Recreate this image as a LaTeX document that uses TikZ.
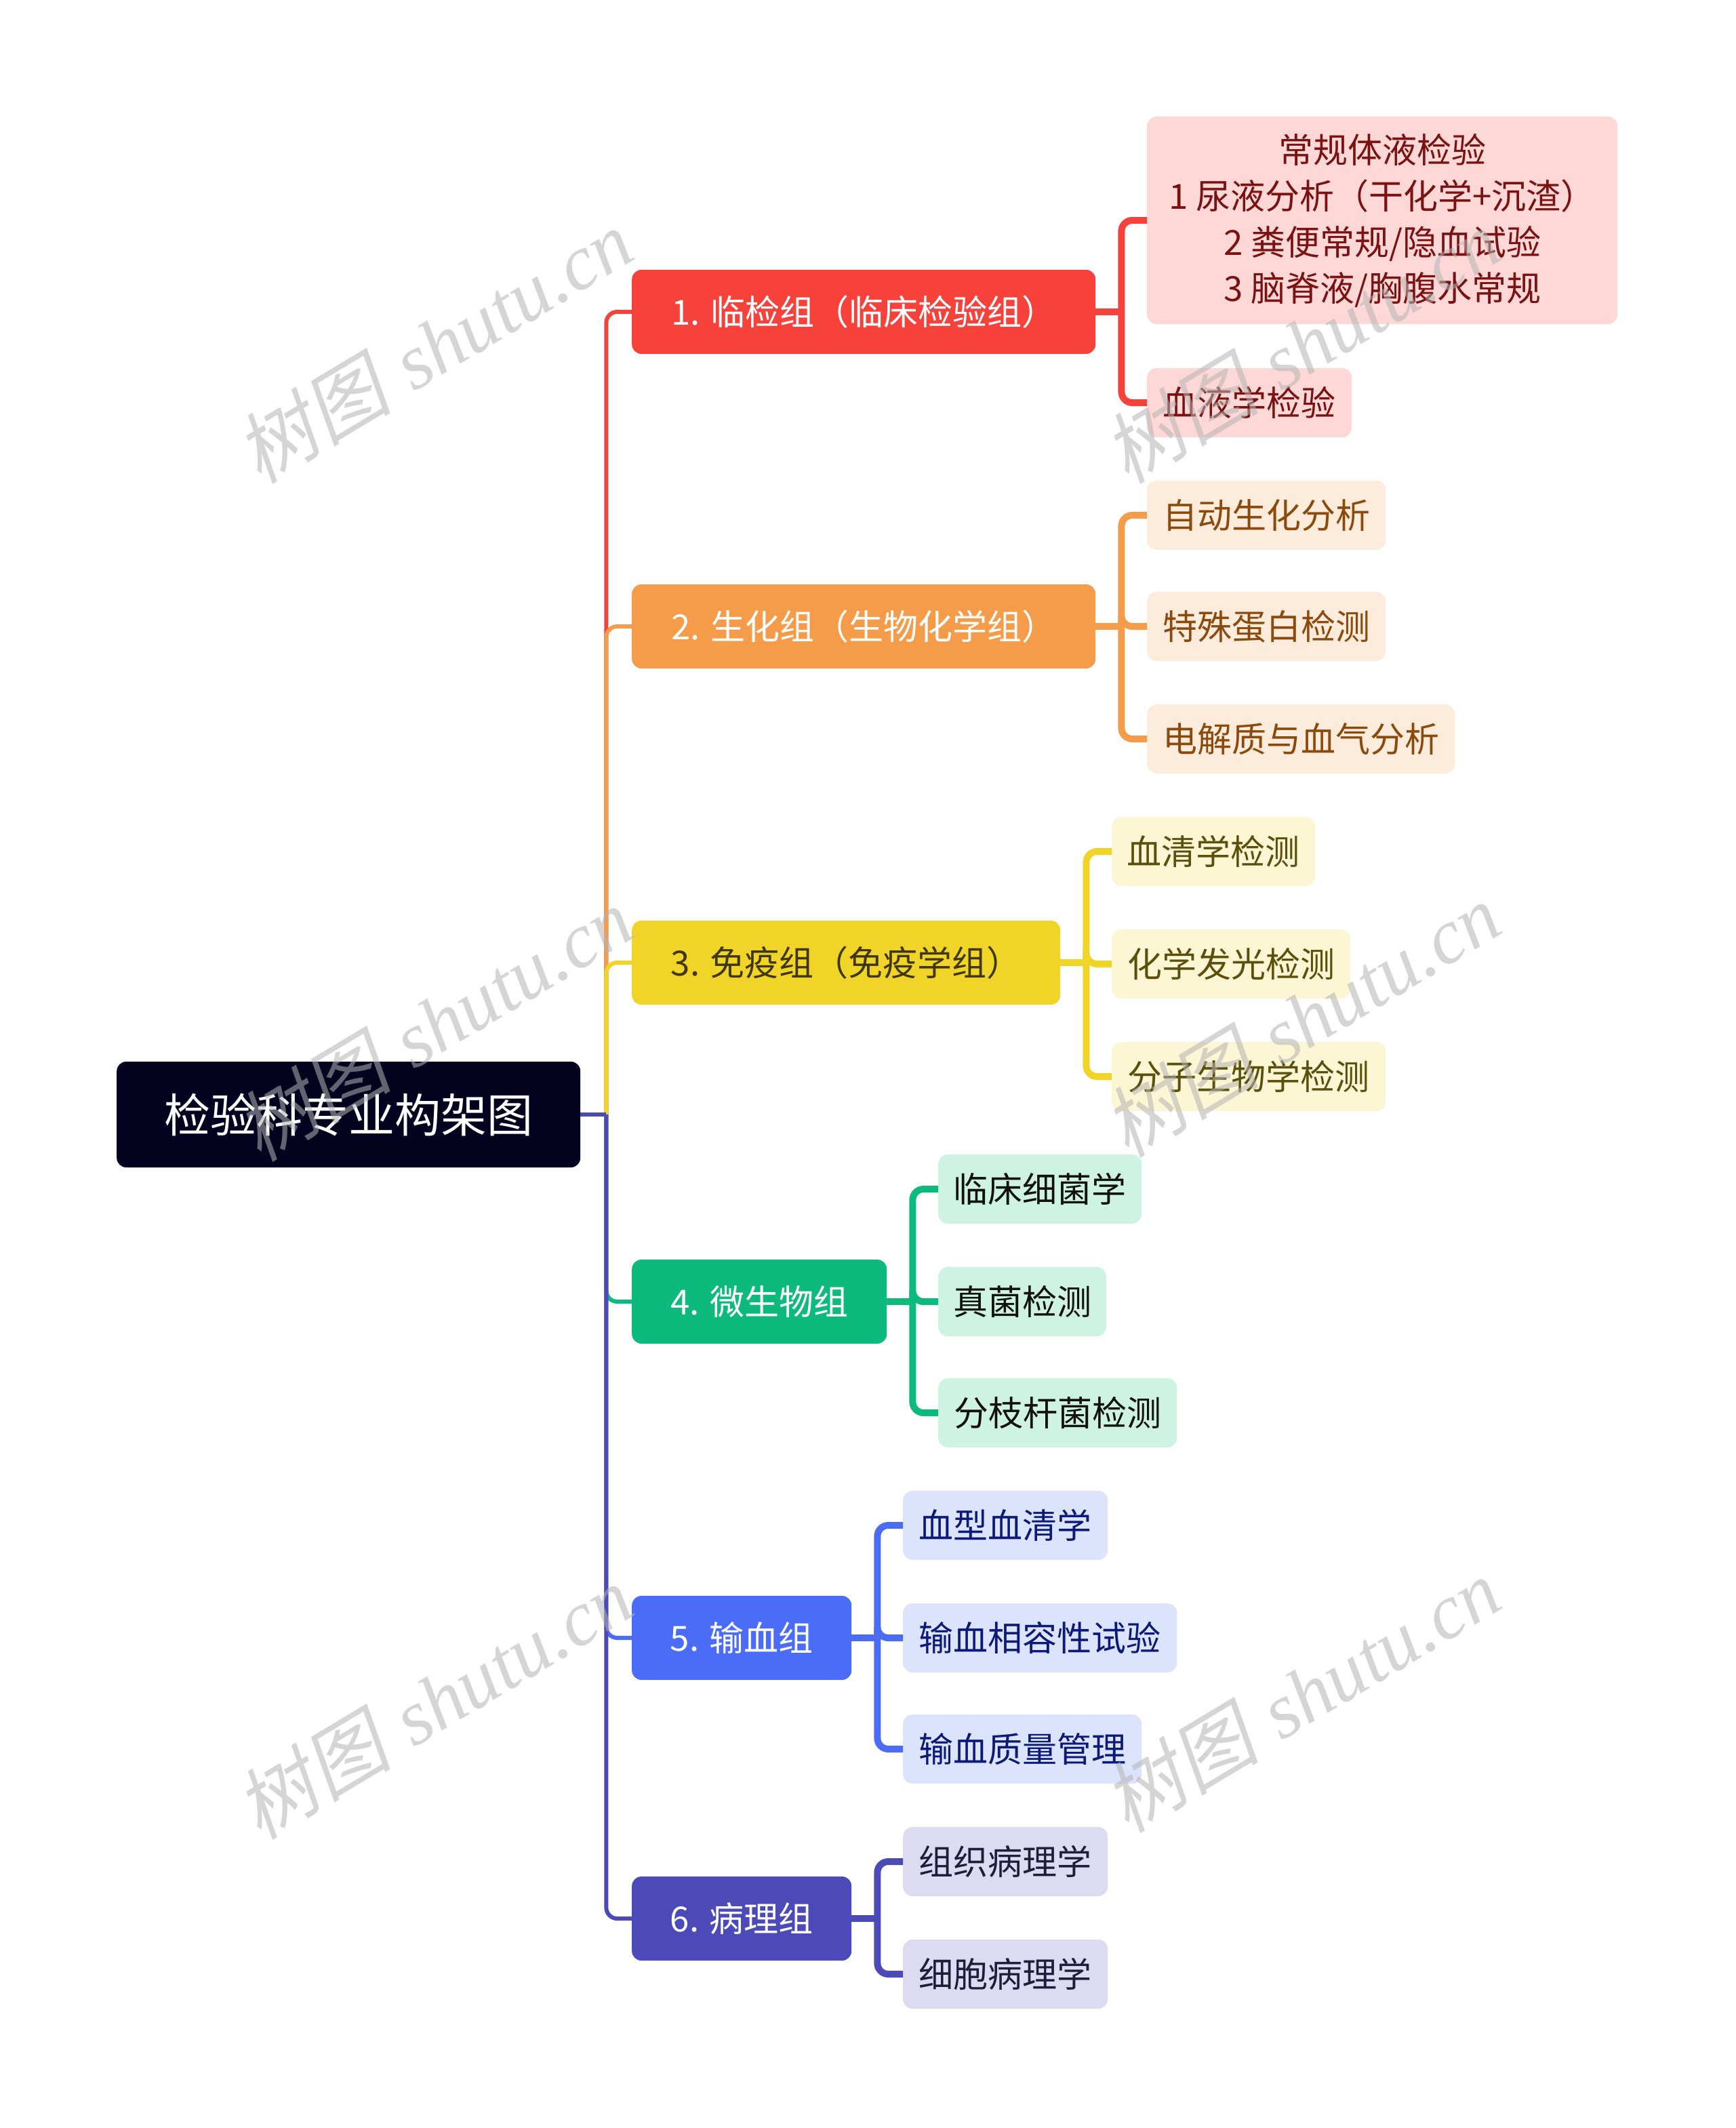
\documentclass[tikz,border=0pt]{standalone}
\usepackage{fontspec}
\setmainfont{Noto Sans CJK SC}
\newfontfamily\wmcjk[FakeSlant=0.2]{Noto Sans CJK SC}
\newfontfamily\wmlat{Liberation Serif}
\usetikzlibrary{calc}
\definecolor{rootc}{HTML}{03021F}
\definecolor{cA}{HTML}{F7423C}\definecolor{fA}{HTML}{FDD8D6}\definecolor{tA}{HTML}{7B1111}
\definecolor{cB}{HTML}{F59C4A}\definecolor{fB}{HTML}{FDEBDB}\definecolor{tB}{HTML}{8B4A0B}
\definecolor{cC}{HTML}{F0D427}\definecolor{fC}{HTML}{FCF6D4}\definecolor{tC}{HTML}{5B4F0B}
\definecolor{cD}{HTML}{0DBA7E}\definecolor{fD}{HTML}{CFF3E3}\definecolor{tD}{HTML}{111111}
\definecolor{cE}{HTML}{4A6CF7}\definecolor{fE}{HTML}{DCE3FD}\definecolor{tE}{HTML}{0B1A78}
\definecolor{cF}{HTML}{4C49B9}\definecolor{fF}{HTML}{DCDBF1}\definecolor{tF}{HTML}{1E1E3C}
\definecolor{wmgray}{HTML}{B4B4B4}
\newcommand{\mmlink}[4]{%
  \draw[#1,line width=#2] (#3.east) -- ($(#3.east)+(19,0)$);
  \draw[#1,line width=#2,rounded corners=16pt] ($(#3.east)+(19,0)$) |- (#4.west);}
\begin{document}
\begin{tikzpicture}[x=2pt,y=-2pt,
  box/.style={rounded corners=14pt, inner sep=0pt, align=center, anchor=west},
  mainbox/.style={box, minimum height=124pt, font={\fontsize{51}{68}\selectfont}},
  subbox/.style={box, minimum height=102pt, font={\fontsize{51}{68}\selectfont}},
  wm/.style={rotate=31, text=wmgray, opacity=0.55, inner sep=0pt}]
\useasboundingbox[fill=white] (0,0) rectangle (1280,1569.5);
% root
\node[box, fill=rootc, text=white, minimum width=684pt, minimum height=156pt,
  font={\fontsize{68}{80}\selectfont}] (root) at (86,822) {检验科专业构架图};
% main nodes
\node[mainbox, fill=cA, text=white, minimum width=684pt] (n1) at (466,230) {1. 临检组（临床检验组）};
\node[mainbox, fill=cB, text=white, minimum width=684pt] (n2) at (466,462) {2. 生化组（生物化学组）};
\node[mainbox, fill=cC, text=tC!70!black, minimum width=632pt] (n3) at (466,710) {3. 免疫组（免疫学组）};
\node[mainbox, fill=cD, text=white, minimum width=376pt] (n4) at (466,960) {4. 微生物组};
\node[mainbox, fill=cE, text=white, minimum width=324pt] (n5) at (466,1208) {5. 输血组};
\node[mainbox, fill=cF, text=white, minimum width=324pt] (n6) at (466,1415) {6. 病理组};
% branch 1
\node[subbox, fill=fA, text=tA, minimum width=694pt, minimum height=306pt] (a1) at (846,162.5)
  {常规体液检验\\1 尿液分析（干化学+沉渣）\\2 粪便常规/隐血试验\\3 脑脊液/胸腹水常规};
\node[subbox, fill=fA, text=tA, minimum width=302pt] (a2) at (846,297) {血液学检验};
% branch 2
\node[subbox, fill=fB, text=tB, minimum width=352pt] (b1) at (846,380) {自动生化分析};
\node[subbox, fill=fB, text=tB, minimum width=352pt] (b2) at (846,462) {特殊蛋白检测};
\node[subbox, fill=fB, text=tB, minimum width=454pt] (b3) at (846,545) {电解质与血气分析};
% branch 3
\node[subbox, fill=fC, text=tC, minimum width=300pt] (c1) at (820,628) {血清学检测};
\node[subbox, fill=fC, text=tC, minimum width=352pt] (c2) at (820,711) {化学发光检测};
\node[subbox, fill=fC, text=tC, minimum width=404pt] (c3) at (820,794) {分子生物学检测};
% branch 4
\node[subbox, fill=fD, text=tD, minimum width=300pt] (d1) at (692,877) {临床细菌学};
\node[subbox, fill=fD, text=tD, minimum width=248pt] (d2) at (692,960) {真菌检测};
\node[subbox, fill=fD, text=tD, minimum width=352pt] (d3) at (692,1042) {分枝杆菌检测};
% branch 5
\node[subbox, fill=fE, text=tE, minimum width=302pt] (e1) at (666,1125) {血型血清学};
\node[subbox, fill=fE, text=tE, minimum width=404pt] (e2) at (666,1208) {输血相容性试验};
\node[subbox, fill=fE, text=tE, minimum width=352pt] (e3) at (666,1290) {输血质量管理};
% branch 6
\node[subbox, fill=fF, text=tF, minimum width=302pt] (f1) at (666,1373) {组织病理学};
\node[subbox, fill=fF, text=tF, minimum width=302pt] (f2) at (666,1456) {细胞病理学};
% connectors: trunk
\mmlink{cA}{6pt}{root}{n1}
\mmlink{cB}{6pt}{root}{n2}
\mmlink{cC}{6pt}{root}{n3}
\mmlink{cD}{6pt}{root}{n4}
\mmlink{cE}{6pt}{root}{n5}
\mmlink{cF}{6pt}{root}{n6}
% sub connectors
\mmlink{cA}{10pt}{n1}{a1}
\mmlink{cA}{10pt}{n1}{a2}
\mmlink{cB}{10pt}{n2}{b1}
\mmlink{cB}{10pt}{n2}{b3}
\mmlink{cB}{10pt}{n2}{b2}
\mmlink{cC}{10pt}{n3}{c1}
\mmlink{cC}{10pt}{n3}{c3}
\mmlink{cC}{10pt}{n3}{c2}
\mmlink{cD}{10pt}{n4}{d1}
\mmlink{cD}{10pt}{n4}{d3}
\mmlink{cD}{10pt}{n4}{d2}
\mmlink{cE}{10pt}{n5}{e1}
\mmlink{cE}{10pt}{n5}{e3}
\mmlink{cE}{10pt}{n5}{e2}
\mmlink{cF}{10pt}{n6}{f1}
\mmlink{cF}{10pt}{n6}{f2}
% watermarks
\foreach \wx/\wy/\wn in {320/255/1, 960/255/2, 320/755/3, 960/752/4, 320/1255/5, 960/1250/6}{
  \node[wm] (wm\wn) at (\wx,\wy) {\fontsize{115}{120}\selectfont{\wmcjk 树图}\hspace{0.3em}{\wmlat\itshape shutu.cn}};
}
\end{tikzpicture}
\end{document}
